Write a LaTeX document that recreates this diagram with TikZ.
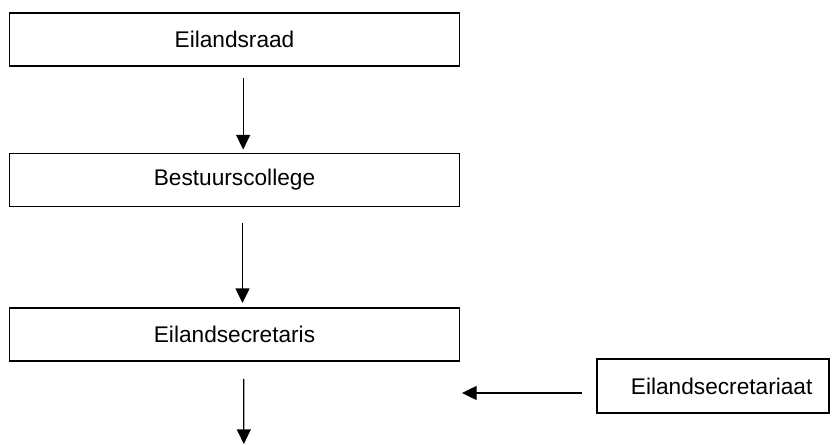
\documentclass[tikz,border=0pt]{standalone}
\usepackage{fontspec}
\setmainfont{Liberation Sans}
\usetikzlibrary{arrows.meta}

\tikzset{every picture/.style={line width=0.75pt}}
\tikzset{
  orgbox/.style={draw, line width=1.2pt, minimum width=337.5pt, minimum height=40pt,
    inner sep=0.75pt, font=\fontsize{17}{20}\selectfont},
  conn/.style={line width=1pt, -{Triangle[length=11pt, width=10.5pt]}}
}

\begin{document}
\begin{tikzpicture}[x=0.75pt,y=0.75pt,yscale=-1,xscale=1]
\useasboundingbox (0,0) rectangle (835,445);

% Text Node
\node [orgbox] (raad) at (234.5,39.5) {Eilandsraad};
% Text Node
\node [orgbox] (bestuur) at (234.5,180) {Bestuurscollege};
% Text Node
\node [orgbox] (secretaris) at (234.5,334.5) {Eilandsecretaris};
% Text Node
\node [orgbox, minimum width=174pt, minimum height=40.5pt] (secretariaat) at (713,386) {\hspace{13pt}Eilandsecretariaat};
\coordinate (down) at (243.8,444);
\coordinate (left) at (462,393);

% Connection
\draw [conn, shorten <=8.25pt, shorten >=2.25pt] ([xshift=6.5pt]raad.south) -- ([xshift=6.5pt]bestuur.north);
% Connection
\draw [conn, shorten <=12pt, shorten >=3pt] ([xshift=6pt]bestuur.south) -- ([xshift=6pt]secretaris.north);
% Connection
\draw [conn, shorten <=12.75pt] ([xshift=7pt]secretaris.south) -- (down);
% Connection
\draw [conn, shorten <=10.5pt] ([yshift=5.25pt]secretariaat.west) -- (left);

\end{tikzpicture}
\end{document}
